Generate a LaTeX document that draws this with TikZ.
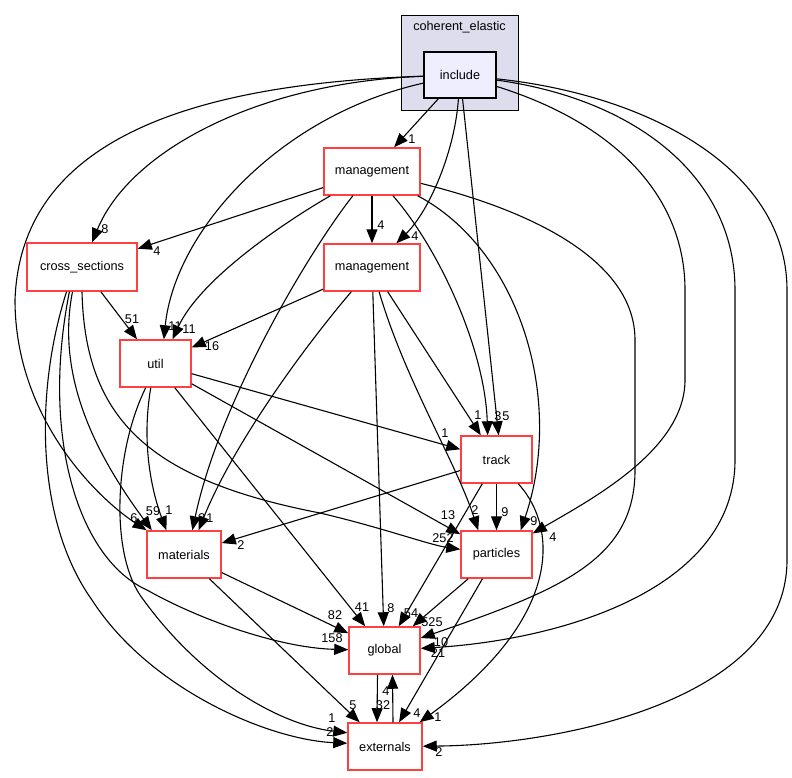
\documentclass[tikz,border=0pt]{standalone}
\usepackage{fontspec}
\setmainfont{Liberation Sans}
\usetikzlibrary{arrows.meta}
\newlength{\du}
\setlength{\du}{1\unitlength}
\newcommand{\dirfont}{\fontsize{12.7}{15}\selectfont}

\begin{document}
\begin{tikzpicture}[
  dirbox/.style={draw=dirlinecolor,line width=1.5\du,fill=white,minimum width=71\du,minimum height=47\du,inner sep=0pt,font=\dirfont},
  incbox/.style={draw=black,line width=1.5\du,fill=incfillcolor,minimum width=72\du,minimum height=46\du,inner sep=0pt,font=\dirfont},
  clusterbox/.style={draw=black,line width=1\du,fill=clusterfillcolor,minimum width=117\du,minimum height=95\du,inner sep=0pt},
  dep/.style={draw=black,line width=1.1\du,-{Triangle[length=14pt,width=11pt]}},
  elabel/.style={inner sep=0pt,font=\dirfont}
]
\pgftransformxscale{1.000000}
\pgftransformyscale{-1.000000}
\definecolor{dirlinecolor}{rgb}{1.000000, 0.250000, 0.250000}
\definecolor{incfillcolor}{rgb}{0.933333, 0.933333, 1.000000}
\definecolor{clusterfillcolor}{rgb}{0.866667, 0.866667, 0.933333}
\useasboundingbox (0\du,0\du) rectangle (792\du,777\du);
% cluster coherent_elastic
\node[clusterbox] (coherent) at (459.500000\du,62.500000\du){};
\node[elabel] (coherenttitle) at (459.500000\du,27.000000\du){coherent\_elastic};
\node[incbox] (include) at (460.000000\du,75.000000\du){include};
% directories
\node[dirbox,minimum width=96\du] (mgmtA) at (372.000000\du,171.500000\du){management};
\node[dirbox,minimum width=96\du] (mgmtB) at (372.000000\du,267.500000\du){management};
\node[dirbox,minimum width=110\du,minimum height=48\du] (xsec) at (82.000000\du,267.000000\du){cross\_sections};
\node[dirbox] (util) at (155.500000\du,363.500000\du){util};
\node[dirbox] (track) at (496.500000\du,459.500000\du){track};
\node[dirbox,minimum width=74\du] (materials) at (184.000000\du,554.500000\du){materials};
\node[dirbox] (particles) at (496.500000\du,554.500000\du){particles};
\node[dirbox] (global) at (384.500000\du,650.500000\du){global};
\node[dirbox,minimum width=74\du] (externals) at (385.000000\du,746.500000\du){externals};
% include
\draw[dep] (include) -- (mgmtA);
\node[elabel] (lIncMgmtA) at (412.000000\du,139.000000\du){1};
\draw[dep] (include) .. controls (260.000000\du,82.000000\du) and (130.000000\du,150.000000\du) .. (xsec);
\node[elabel] (lIncXsec) at (105.000000\du,229.000000\du){8};
\draw[dep] (include) .. controls (280.000000\du,115.000000\du) and (175.000000\du,230.000000\du) .. (util.71);
\node[elabel] (lIncUtil) at (175.000000\du,326.000000\du){11};
\draw[dep] (include) .. controls (455.000000\du,150.000000\du) and (430.000000\du,210.000000\du) .. (mgmtB);
\node[elabel] (lIncMgmtB) at (415.000000\du,236.000000\du){4};
\draw[dep] (include) -- (track.85);
\node[elabel] (lIncTrack) at (506.000000\du,416.000000\du){5};
\draw[dep] (include) .. controls (150.000000\du,85.000000\du) and (20.000000\du,160.000000\du) .. (15.000000\du,300.000000\du) .. controls (15.000000\du,420.000000\du) and (100.000000\du,500.000000\du) .. (materials);
\node[elabel] (lIncMaterials) at (134.000000\du,518.000000\du){6};
\draw[dep] (include) .. controls (620.000000\du,125.000000\du) and (685.000000\du,200.000000\du) .. (685.000000\du,290.000000\du) -- (685.000000\du,380.000000\du) .. controls (685.000000\du,450.000000\du) and (590.000000\du,500.000000\du) .. (particles);
\node[elabel] (lIncParticles) at (553.000000\du,537.000000\du){4};
\draw[dep] (include) .. controls (640.000000\du,100.000000\du) and (735.000000\du,180.000000\du) .. (735.000000\du,290.000000\du) -- (735.000000\du,460.000000\du) .. controls (735.000000\du,590.000000\du) and (560.000000\du,640.000000\du) .. (global);
\node[elabel] (lIncGlobal) at (438.000000\du,653.000000\du){21};
\draw[dep] (include) .. controls (650.000000\du,95.000000\du) and (787.000000\du,170.000000\du) .. (787.000000\du,290.000000\du) -- (787.000000\du,560.000000\du) .. controls (787.000000\du,700.000000\du) and (560.000000\du,745.000000\du) .. (externals);
\node[elabel] (lIncExternals) at (439.000000\du,752.000000\du){2};
% management (upper)
\draw[dep] (mgmtA) -- (xsec);
\node[elabel] (lMgmtAXsec) at (157.000000\du,251.000000\du){4};
\draw[dep] (mgmtA) .. controls (280.000000\du,225.000000\du) and (200.000000\du,280.000000\du) .. (util.55);
\node[elabel] (lMgmtAUtil) at (189.000000\du,329.000000\du){11};
\draw[dep] (mgmtA) .. controls (310.000000\du,250.000000\du) and (220.000000\du,400.000000\du) .. (materials.71);
\node[elabel] (lMgmtAMaterials) at (202.000000\du,518.000000\du){3};
\draw[dep] (mgmtA) -- (mgmtB);
\node[elabel] (lMgmtAMgmtB) at (381.000000\du,225.000000\du){4};
\draw[dep] (mgmtA) .. controls (440.000000\du,250.000000\du) and (485.000000\du,350.000000\du) .. (track.110);
\node[elabel] (lMgmtATrack) at (498.000000\du,416.000000\du){3};
\draw[dep] (mgmtA) .. controls (520.000000\du,250.000000\du) and (565.000000\du,400.000000\du) .. (particles.45);
\node[elabel] (lMgmtAParticles) at (534.000000\du,521.000000\du){9};
\draw[dep] (mgmtA) .. controls (530.000000\du,210.000000\du) and (635.000000\du,260.000000\du) .. (635.000000\du,340.000000\du) -- (635.000000\du,470.000000\du) .. controls (635.000000\du,560.000000\du) and (560.000000\du,590.000000\du) .. (global);
\node[elabel] (lMgmtAGlobal) at (441.000000\du,642.000000\du){10};
% management (lower)
\draw[dep] (mgmtB) -- (util);
\node[elabel] (lMgmtBUtil) at (212.000000\du,346.000000\du){16};
\draw[dep] (mgmtB) .. controls (310.000000\du,340.000000\du) and (235.000000\du,440.000000\du) .. (materials.59);
\node[elabel] (lMgmtBMaterials) at (210.000000\du,518.000000\du){1};
\draw[dep] (mgmtB) -- (global);
\node[elabel] (lMgmtBGlobal) at (391.000000\du,608.000000\du){8};
\draw[dep] (mgmtB) -- (track);
\node[elabel] (lMgmtBTrack) at (478.000000\du,415.000000\du){1};
\draw[dep] (mgmtB) .. controls (405.000000\du,380.000000\du) and (455.000000\du,460.000000\du) .. (particles.127);
\node[elabel] (lMgmtBParticles) at (475.000000\du,510.000000\du){2};
% cross_sections
\draw[dep] (xsec) -- (util);
\node[elabel] (lXsecUtil) at (132.000000\du,319.000000\du){51};
\draw[dep] (xsec.249) .. controls (55.000000\du,380.000000\du) and (100.000000\du,460.000000\du) .. (materials.143);
\node[elabel] (lXsecMaterials) at (153.000000\du,511.000000\du){59};
\draw[dep] (xsec.243) .. controls (40.000000\du,440.000000\du) and (80.000000\du,560.000000\du) .. (147.000000\du,590.000000\du) .. controls (200.000000\du,620.000000\du) and (280.000000\du,648.000000\du) .. (global);
\node[elabel] (lXsecGlobal) at (332.000000\du,638.000000\du){158};
\draw[dep] (xsec.238) .. controls (35.000000\du,390.000000\du) and (35.000000\du,520.000000\du) .. (92.000000\du,600.000000\du) .. controls (150.000000\du,690.000000\du) and (270.000000\du,740.000000\du) .. (externals.175);
\node[elabel] (lXsecExternals) at (330.000000\du,732.000000\du){2};
\draw[dep] (xsec.south) .. controls (85.000000\du,420.000000\du) and (150.000000\du,480.000000\du) .. (320.000000\du,513.000000\du) .. controls (380.000000\du,527.000000\du) and (430.000000\du,545.000000\du) .. (particles);
\node[elabel] (lXsecParticles) at (443.000000\du,538.000000\du){252};
% util
\draw[dep] (util) -- (track);
\node[elabel] (lUtilTrack) at (445.000000\du,433.000000\du){1};
\draw[dep] (util) -- (particles);
\node[elabel] (lUtilParticles) at (448.000000\du,515.000000\du){13};
\draw[dep] (util) -- (global);
\node[elabel] (lUtilGlobal) at (362.000000\du,607.000000\du){41};
\draw[dep] (util.259) .. controls (140.000000\du,450.000000\du) and (155.000000\du,500.000000\du) .. (materials.126);
\node[elabel] (lUtilMaterials) at (169.000000\du,510.000000\du){1};
\draw[dep] (util.248) .. controls (115.000000\du,450.000000\du) and (110.000000\du,550.000000\du) .. (140.000000\du,595.000000\du) .. controls (200.000000\du,680.000000\du) and (280.000000\du,725.000000\du) .. (externals.160);
\node[elabel] (lUtilExternals) at (332.000000\du,718.000000\du){1};
% track
\draw[dep] (track) -- (materials);
\node[elabel] (lTrackMaterials) at (241.000000\du,545.000000\du){2};
\draw[dep] (track) -- (particles);
\node[elabel] (lTrackParticles) at (505.000000\du,512.000000\du){9};
\draw[dep] (track) -- (global);
\node[elabel] (lTrackGlobal) at (411.000000\du,613.000000\du){54};
\draw[dep] (track.-48) .. controls (560.000000\du,530.000000\du) and (560.000000\du,620.000000\du) .. (externals.35);
\node[elabel] (lTrackExternals) at (438.000000\du,717.000000\du){1};
% materials, particles, global
\draw[dep] (materials) -- (global);
\node[elabel] (lMaterialsGlobal) at (335.000000\du,615.000000\du){82};
\draw[dep] (materials) -- (externals);
\node[elabel] (lMaterialsExternals) at (353.000000\du,705.000000\du){5};
\draw[dep] (particles) -- (global);
\node[elabel] (lParticlesGlobal) at (432.000000\du,622.000000\du){525};
\draw[dep] (particles) -- (externals);
\node[elabel] (lParticlesExternals) at (417.000000\du,713.000000\du){4};
\draw[dep] ([xshift=-7\du]global.south) -- ([xshift=-8\du]externals.north);
\node[elabel] (lGlobalExternals) at (383.000000\du,705.000000\du){32};
\draw[dep] ([xshift=8\du]externals.north) -- ([xshift=8\du]global.south);
\node[elabel] (lExternalsGlobal) at (386.000000\du,691.000000\du){4};
\end{tikzpicture}
\end{document}
